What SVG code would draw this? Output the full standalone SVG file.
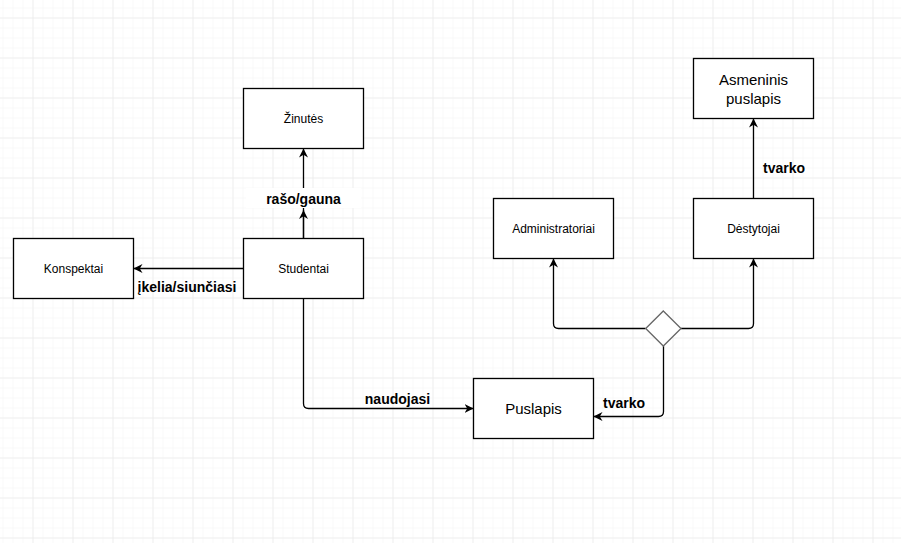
<svg xmlns="http://www.w3.org/2000/svg" width="901" height="543" viewBox="0 0 901 543">
  <defs>
    <!-- background grid: 10px minor, 40px major -->
    <pattern id="minor" width="10" height="10" patternUnits="userSpaceOnUse" x="3.5" y="8.5">
      <path d="M10 0 V10 M0 10 H10" fill="none" stroke="#f3f3f3" stroke-width="1"/>
    </pattern>
    <pattern id="major" width="40" height="40" patternUnits="userSpaceOnUse" x="-6.5" y="-21.5">
      <path d="M40 0 V40 M0 40 H40" fill="none" stroke="#e4e4e4" stroke-width="1"/>
    </pattern>
    <marker id="arrow" viewBox="0 0 10 10" refX="10" refY="5" markerWidth="9" markerHeight="9" markerUnits="userSpaceOnUse" orient="auto">
      <path d="M0 0 L10 5 L0 10 L3 5 Z" fill="#000"/>
    </marker>
  </defs>
  <style>
    .box { fill: #fff; stroke: #000; stroke-width: 1.3; }
    .diamond { fill: #fff; stroke: #666; stroke-width: 1.3; }
    .edge { fill: none; stroke: #000; stroke-width: 1.3; marker-end: url(#arrow); }
    .lbl { font-family: "Liberation Sans", Arial, sans-serif; font-size: 12px; fill: #000; text-anchor: middle; }
    .big { font-size: 15px; }
    .elbl { font-family: "Liberation Sans", Arial, sans-serif; font-size: 14px; font-weight: bold; fill: #000; text-anchor: middle; }
  </style>

  <rect width="901" height="543" fill="#fff"/>
  <rect width="901" height="543" fill="url(#minor)"/>
  <rect width="901" height="543" fill="url(#major)"/>

  <g id="connectors">
    <!-- Studentai -> Žinutės -->
    <path class="edge" d="M303.5 238.5 V148.5"/>
    <path class="edge" d="M303.5 238.5 V210"/>
    <rect x="246" y="188" width="115" height="20" fill="#fff"/>
    <text class="elbl" x="303.5" y="204">rašo/gauna</text>
    <!-- Studentai -> Konspektai -->
    <path class="edge" d="M243.5 268.5 H133.5"/>
    <text class="elbl" x="187" y="292">įkelia/siunčiasi</text>
    <!-- Studentai -> Puslapis -->
    <path class="edge" d="M303.5 298.5 V403.5 Q303.5 408.5 308.5 408.5 H473.5"/>
    <text class="elbl" x="397.5" y="404">naudojasi</text>
    <!-- diamond -> Administratoriai -->
    <path class="edge" d="M645.5 328.5 H558.5 Q553.5 328.5 553.5 323.5 V258.5"/>
    <!-- diamond -> Dėstytojai -->
    <path class="edge" d="M681 328.5 H748.5 Q753.5 328.5 753.5 323.5 V258.5"/>
    <!-- diamond -> Puslapis -->
    <path class="edge" d="M663.5 346 V411.5 Q663.5 416.5 658.5 416.5 H593.5"/>
    <text class="elbl" x="624" y="408">tvarko</text>
    <!-- Dėstytojai -> Asmeninis puslapis -->
    <path class="edge" d="M753.5 198.5 V118.5"/>
    <text class="elbl" x="784" y="173">tvarko</text>
  </g>

  <g id="zinutes">
    <rect class="box" x="243.5" y="88.5" width="120" height="60"/>
    <text class="lbl" x="303.5" y="123">Žinutės</text>
  </g>
  <g id="studentai">
    <rect class="box" x="243.5" y="238.5" width="120" height="60"/>
    <text class="lbl" x="303.5" y="273">Studentai</text>
  </g>
  <g id="konspektai">
    <rect class="box" x="13.5" y="238.5" width="120" height="60"/>
    <text class="lbl" x="73.5" y="273">Konspektai</text>
  </g>
  <g id="administratoriai">
    <rect class="box" x="493.5" y="198.5" width="120" height="60"/>
    <text class="lbl" x="553.5" y="233">Administratoriai</text>
  </g>
  <g id="destytojai">
    <rect class="box" x="693.5" y="198.5" width="120" height="60"/>
    <text class="lbl" x="753.5" y="233">Dėstytojai</text>
  </g>
  <g id="asmeninis-puslapis">
    <rect class="box" x="693.5" y="58.5" width="120" height="60"/>
    <text class="lbl big" x="753.5" y="85">Asmeninis</text>
    <text class="lbl big" x="753.5" y="104">puslapis</text>
  </g>
  <g id="puslapis">
    <rect class="box" x="473.5" y="378.5" width="120" height="60"/>
    <text class="lbl big" x="533.5" y="414">Puslapis</text>
  </g>
  <g id="diamond">
    <path class="diamond" d="M663.3 311 L681 328.5 L663.3 346 L645.7 328.5 Z"/>
  </g>
</svg>
